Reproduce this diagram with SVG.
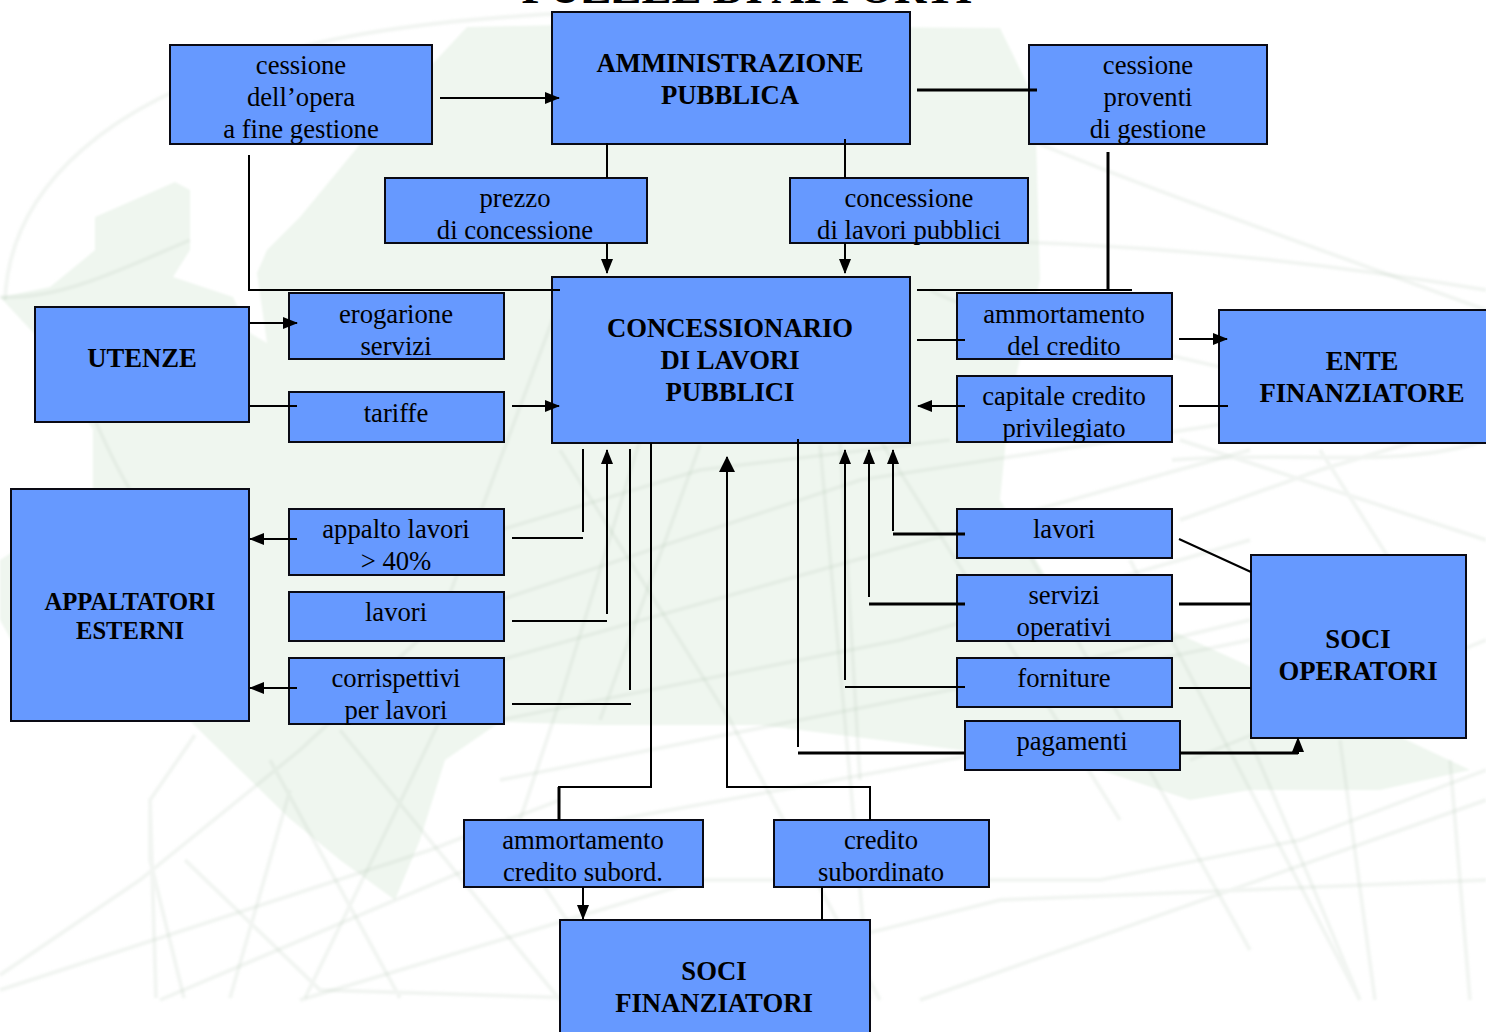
<svg xmlns="http://www.w3.org/2000/svg" width="1486" height="1032" viewBox="0 0 1486 1032">
<defs>
<marker id="a" markerUnits="userSpaceOnUse" markerWidth="15" markerHeight="12" refX="14" refY="6" orient="auto"><path d="M0,0L15,6L0,12z" fill="#000"/></marker>
<marker id="b" markerUnits="userSpaceOnUse" markerWidth="16" markerHeight="16" refX="15" refY="8" orient="auto"><path d="M0,0L16,8L0,16z" fill="#000"/></marker>
<filter id="blur" x="-5%" y="-5%" width="110%" height="110%"><feGaussianBlur stdDeviation="1.3"/></filter>
</defs>
<style>
.n{fill:#6699ff;stroke:#0a0a14;stroke-width:2}
.t{font-family:"Liberation Serif","Times New Roman",serif;font-size:26.7px;text-anchor:middle;fill:#000}
.h{font-weight:700}
.s{font-size:24.6px}
.c{fill:none;stroke:#000;stroke-width:2}
.k{stroke-width:3}
.m{marker-end:url(#a)}
.bg{fill:none;stroke:#c4d0c4;stroke-width:4;opacity:.22}
</style>
<rect width="1486" height="1032" fill="#fff"/>
<g id="background" filter="url(#blur)">
<path d="M0,297L50,287L83,260L95,250L95,217L175,182L190,190L190,250L173,277L233,297L250,333L267,343L257,273L267,250L300,217L380,120L467,27L560,25L1000,28L1035,100L1040,280L1010,400L1000,500L1060,600L1170,630L1280,680L1470,770L1380,790L1250,790L1190,800L1100,770L960,750L760,725L600,725L500,722L445,760L420,840L395,900L340,860L289,818L240,770L190,721L60,700L11,640L0,620L0,560L30,540L93,489L93,430L40,340Z" fill="#eff6ef"/>
<path class="bg" d="M5,300C10,180 120,100 260,60C340,30 480,15 640,10"/>
<path class="bg" d="M0,297C60,300 120,270 190,240"/>
<path class="bg" d="M95,420C130,500 150,520 170,540"/>
<path class="bg" d="M910,240C1050,240 1250,250 1486,290"/>
<path class="bg" d="M1030,140C1150,190 1350,260 1486,310"/>
<path class="bg" d="M930,290C1000,330 1250,360 1486,440"/>
<path class="bg" d="M1172,460C1300,450 1400,470 1486,440M1180,440L1486,540M1180,520L1320,470L1420,440M1320,450L1390,560"/>
<path class="bg" d="M560,300L440,620L300,750M700,445L600,720M640,440L560,700L520,820M820,445L870,1000M840,440L860,780M880,440L1120,820M1010,520L1250,950M1130,560L1360,1000M1250,740L1310,880L1360,1000M1340,740L1375,1000M1450,760L1470,1000"/>
<path class="bg" d="M156,998L150,800L195,735M184,998L150,860L150,810M0,975L140,880L300,750M185,860L320,990L640,1000M230,998L290,790M270,760L400,998M305,998L440,720M340,730L560,1000M560,450L730,720L880,1000M500,820L620,1000"/>
<path class="bg" d="M500,600L860,480L1250,420M500,660L820,570L1250,450M500,530L700,470L950,440M500,720L900,640L1250,540M500,780L1000,680L1250,620M960,700L1250,640M1190,760L1486,640"/>
<path class="bg" d="M0,990L430,850L560,800M160,1000L560,830L1000,750M300,1000L700,880L1100,880L1300,840L1486,770M600,1000L1000,900L1486,880M920,1000L1486,800"/>
</g>
<text class="t h" x="747" y="3" style="font-size:45px">PUZZLE DI APPORTI</text>
<g id="amministrazione"><rect class="n" x="552" y="12" width="358" height="132"/><text class="t h" x="730" y="72">AMMINISTRAZIONE</text><text class="t h" x="730" y="104">PUBBLICA</text></g>
<g id="cessione-opera"><rect class="n" x="170" y="45" width="262" height="99"/><text class="t" x="301" y="74">cessione</text><text class="t" x="301" y="106">dell’opera</text><text class="t" x="301" y="138">a fine gestione</text></g>
<g id="cessione-proventi"><rect class="n" x="1029" y="45" width="238" height="99"/><text class="t" x="1148" y="74">cessione</text><text class="t" x="1148" y="106">proventi</text><text class="t" x="1148" y="138">di gestione</text></g>
<g id="prezzo"><rect class="n" x="385" y="178" width="262" height="65"/><text class="t" x="515" y="207">prezzo</text><text class="t" x="515" y="239">di concessione</text></g>
<g id="concessione"><rect class="n" x="790" y="178" width="238" height="65"/><text class="t" x="909" y="207">concessione</text><text class="t" x="909" y="239">di lavori pubblici</text></g>
<g id="concessionario"><rect class="n" x="552" y="277" width="358" height="166"/><text class="t h" x="730" y="337">CONCESSIONARIO</text><text class="t h" x="730" y="369">DI LAVORI</text><text class="t h" x="730" y="401">PUBBLICI</text></g>
<g id="utenze"><rect class="n" x="35" y="307" width="214" height="115"/><text class="t h" x="142" y="367">UTENZE</text></g>
<g id="erogarione"><rect class="n" x="289" y="293" width="215" height="66"/><text class="t" x="396" y="323">erogarione</text><text class="t" x="396" y="355">servizi</text></g>
<g id="tariffe"><rect class="n" x="289" y="392" width="215" height="50"/><text class="t" x="396" y="422">tariffe</text></g>
<g id="ammortamento-credito"><rect class="n" x="957" y="293" width="215" height="66"/><text class="t" x="1064" y="323">ammortamento</text><text class="t" x="1064" y="355">del credito</text></g>
<g id="capitale"><rect class="n" x="957" y="376" width="215" height="66"/><text class="t" x="1064" y="405">capitale credito</text><text class="t" x="1064" y="437">privilegiato</text></g>
<g id="ente"><rect class="n" x="1219" y="310" width="270" height="133"/><text class="t h" x="1362" y="370">ENTE</text><text class="t h" x="1362" y="402">FINANZIATORE</text></g>
<g id="appaltatori"><rect class="n" x="11" y="489" width="238" height="232"/><text class="t h s" x="130" y="610">APPALTATORI</text><text class="t h s" x="130" y="639">ESTERNI</text></g>
<g id="appalto"><rect class="n" x="289" y="509" width="215" height="66"/><text class="t" x="396" y="538">appalto lavori</text><text class="t" x="396" y="570">&gt; 40%</text></g>
<g id="lavori-a"><rect class="n" x="289" y="592" width="215" height="49"/><text class="t" x="396" y="621">lavori</text></g>
<g id="corrispettivi"><rect class="n" x="289" y="658" width="215" height="66"/><text class="t" x="396" y="687">corrispettivi</text><text class="t" x="396" y="719">per lavori</text></g>
<g id="lavori-b"><rect class="n" x="957" y="509" width="215" height="49"/><text class="t" x="1064" y="538">lavori</text></g>
<g id="servizi"><rect class="n" x="957" y="575" width="215" height="66"/><text class="t" x="1064" y="604">servizi</text><text class="t" x="1064" y="636">operativi</text></g>
<g id="forniture"><rect class="n" x="957" y="658" width="215" height="49"/><text class="t" x="1064" y="687">forniture</text></g>
<g id="pagamenti"><rect class="n" x="965" y="721" width="215" height="49"/><text class="t" x="1072" y="750">pagamenti</text></g>
<g id="soci-operatori"><rect class="n" x="1251" y="555" width="215" height="183"/><text class="t h" x="1358" y="648">SOCI</text><text class="t h" x="1358" y="680">OPERATORI</text></g>
<g id="ammortamento-sub"><rect class="n" x="464" y="820" width="239" height="67"/><text class="t" x="583" y="849">ammortamento</text><text class="t" x="583" y="881">credito subord.</text></g>
<g id="credito-sub"><rect class="n" x="774" y="820" width="215" height="67"/><text class="t" x="881" y="849">credito</text><text class="t" x="881" y="881">subordinato</text></g>
<g id="soci-finanziatori"><rect class="n" x="560" y="920" width="310" height="114"/><text class="t h" x="714" y="980">SOCI</text><text class="t h" x="714" y="1012">FINANZIATORI</text></g>
<g id="connectors">
<path class="c m" d="M440,98H559"/>
<path class="c k" d="M917,90H1037"/>
<path class="c" d="M607,143V178"/>
<path class="c m" d="M607,243V273"/>
<path class="c" d="M845,139V178"/>
<path class="c m" d="M845,243V273"/>
<path class="c" d="M249,155V290H560"/>
<path class="c k" d="M1108,152V290"/>
<path class="c" d="M917,290H1132"/>
<path class="c m" d="M250,323H297"/>
<path class="c" d="M250,406H297"/>
<path class="c m" d="M512,406H559"/>
<path class="c" d="M917,340H965"/>
<path class="c m" d="M1179,339H1227"/>
<path class="c m" d="M965,406H918"/>
<path class="c" d="M1179,406H1228"/>
<path class="c" d="M583,449V532"/>
<path class="c" d="M512,538H583"/>
<path class="c m" d="M297,539H250"/>
<path class="c m" d="M607,614V450"/>
<path class="c" d="M512,621H607"/>
<path class="c" d="M630,449V690"/>
<path class="c" d="M512,704H631"/>
<path class="c m" d="M297,688H250"/>
<path class="c" d="M651,443V787H558"/>
<path class="c k" d="M559,787V820"/>
<path class="c m" d="M583,887V919"/>
<path class="c" d="M870,820V787H727V700"/>
<path class="c" style="marker-end:url(#b)" d="M727,700V457"/>
<path class="c" d="M822,887V920"/>
<path class="c" d="M798,439V747"/>
<path class="c k" d="M798,753H965"/>
<path class="c k" d="M1180,753H1298"/>
<path class="c m" d="M1298,754V738"/>
<path class="c m" d="M845,680V450"/>
<path class="c" d="M845,687H965"/>
<path class="c m" d="M869,597V450"/>
<path class="c k" d="M869,604H965"/>
<path class="c m" d="M893,531V450"/>
<path class="c k" d="M893,534H965"/>
<path class="c" d="M1179,539L1251,572"/>
<path class="c k" d="M1179,604H1251"/>
<path class="c" d="M1179,688H1251"/>
</g>
</svg>
